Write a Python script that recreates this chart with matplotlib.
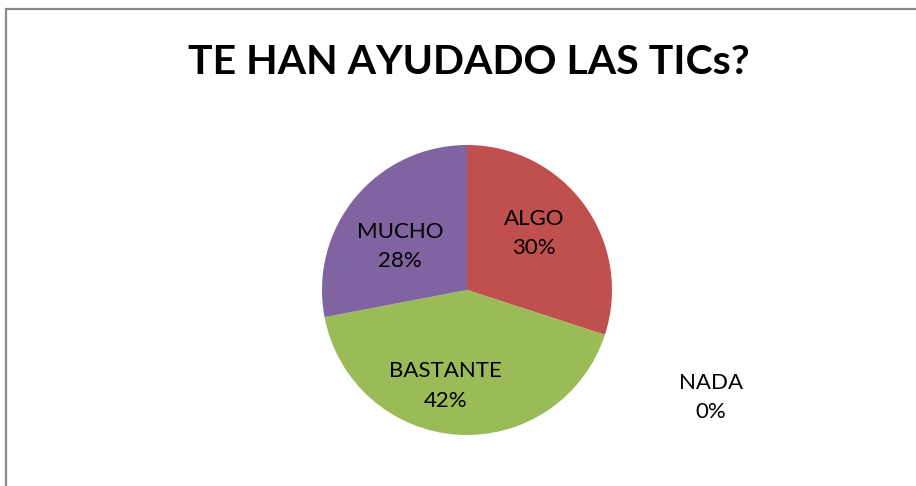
import matplotlib.pyplot as plt
from matplotlib.patches import Rectangle

plt.rcParams['font.family'] = ['Lato', 'DejaVu Sans']

title = 'TE HAN AYUDADO LAS TICs?'
categories = ['ALGO', 'NADA', 'BASTANTE', 'MUCHO']
values = [30, 0, 42, 28]
colors = ['#C0504D', '#4F81BD', '#9BBB59', '#8064A2']
# label block centres, in units of the pie radius
label_pos = [(0.46, 0.39), (1.68, -0.74), (-0.15, -0.66), (-0.46, 0.30)]

W, H = 916, 486
fig = plt.figure(figsize=(W / 100, H / 100), dpi=100)

# grey frame, cut off at the right and bottom like the screenshot
fig.patches.append(Rectangle((6 / W, -0.1), 1.2, 1 - 9 / H + 0.1,
                             transform=fig.transFigure, fill=False,
                             edgecolor='#8a8a8a', linewidth=1.6))

cx, cy, r = 467, 290, 145
ax = fig.add_axes([(cx - r) / W, (H - cy - r) / H, 2 * r / W, 2 * r / H])
ax.pie(values, colors=colors, startangle=90, counterclock=False,
       radius=1, wedgeprops=dict(linewidth=0))
ax.set_xlim(-1, 1)
ax.set_ylim(-1, 1)
ax.set_aspect('equal')
ax.axis('off')

total = sum(values)
for name, v, (x, y) in zip(categories, values, label_pos):
    ax.text(x, y, f'{name}\n{round(100 * v / total)}%', ha='center',
            va='center', fontsize=16, linespacing=1.6, clip_on=False)

fig.text(469 / W, 1 - 62 / H, title, ha='center', va='center',
         fontsize=29.5, fontweight='bold')

fig.savefig('out.png', dpi=100)
